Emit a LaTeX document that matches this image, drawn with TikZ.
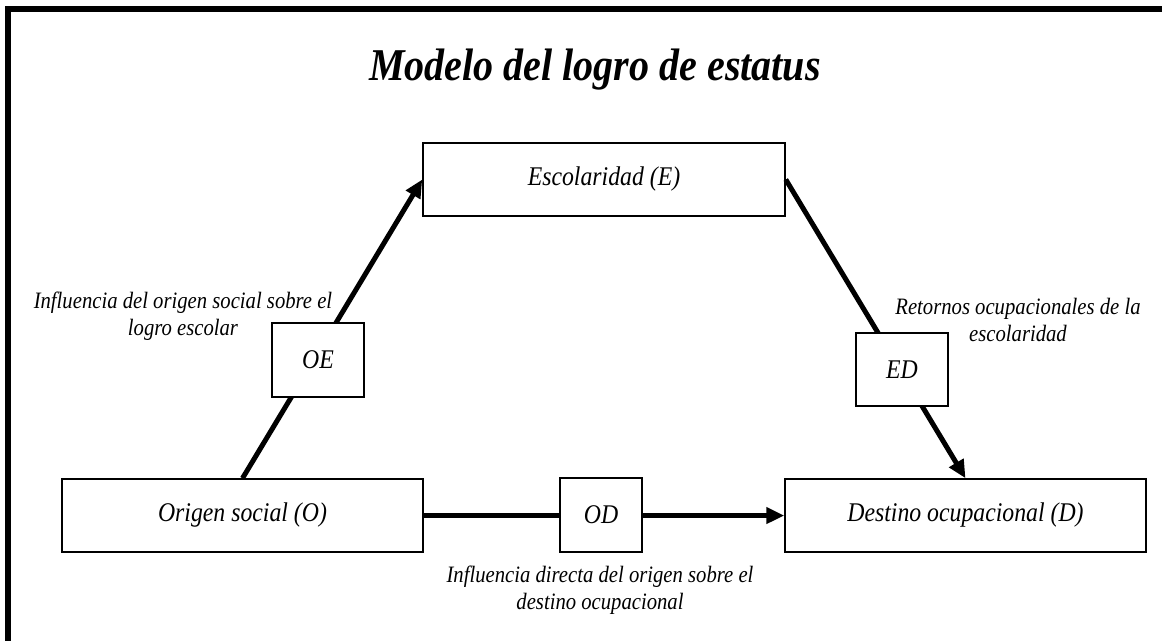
\documentclass[tikz,border=0pt]{standalone}
\usepackage{fontspec}
\setmainfont{Liberation Serif}[FakeStretch=0.88]
\usetikzlibrary{arrows.meta}

\begin{document}
\begin{tikzpicture}[x=1pt,y=-1pt,
        caja/.style={draw,line width=1.5pt,fill=white,inner sep=0pt,
          font=\fontsize{27}{31}\selectfont\itshape},
        flecha/.style={line width=5pt,-{Triangle[length=18pt,width=16pt]}},
        rotulo/.style={align=center,font=\fontsize{23.5}{27.5}\selectfont\itshape}]
        \useasboundingbox (0,0) rectangle (1162,640);
        \clip (0,0) rectangle (1162,640);
        % marco
        \draw[line width=6pt] (8,9) rectangle (1200,700);
        \node[anchor=base,font=\fontsize{45.5}{52}\selectfont\bfseries\itshape] (titulo) at (595,80) {Modelo del logro de estatus};
        % cajas principales
        \node[caja,minimum width=362pt,minimum height=73pt] (E) at (604,179.5) {Escolaridad (E)};
        \node[caja,minimum width=361pt,minimum height=73pt] (O) at (242.5,515.5) {Origen social (O)};
        \node[caja,minimum width=361pt,minimum height=73pt] (D) at (965.5,515.5) {Destino ocupacional (D)};
        % flechas
        \draw[flecha] (O.north) -- (E.west);
        \draw[flecha] (E.east) -- (D.north);
        \draw[flecha] (O.east) -- (D.west);
        % cajas de los efectos
        \node[caja,minimum width=92pt,minimum height=74pt] (OE) at (318,360) {OE};
        \node[caja,minimum width=92pt,minimum height=73pt] (ED) at (902,369.5) {ED};
        \node[caja,minimum width=82pt,minimum height=74pt] (OD) at (601,515) {OD};
        % rotulos
        \node[rotulo] (rOE) at (183,316) {Influencia del origen social sobre el\\logro escolar};
        \node[rotulo] (rED) at (1018,320) {Retornos ocupacionales de la\\escolaridad};
        \node[rotulo] (rOD) at (600,590) {Influencia directa del origen sobre el\\destino ocupacional};
\end{tikzpicture}
\end{document}
